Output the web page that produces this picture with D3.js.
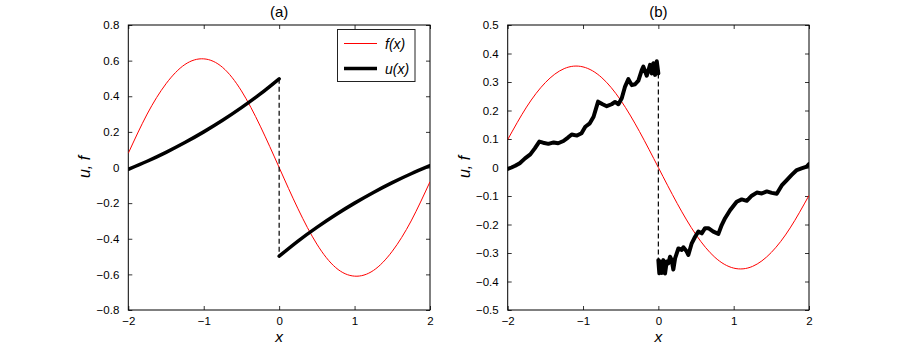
<!DOCTYPE html>
<html>
<head>
<meta charset="utf-8">
<script src="https://cdn.jsdelivr.net/npm/d3@7"></script>
<style>
  body { margin: 0; background: #fff; }
  svg text { font-family: "Liberation Sans", Arial, Helvetica, sans-serif; fill: #000; }
</style>
</head>
<body>
<script>
var width = 901,
    height = 349;

// panel (a): smooth curves, sampled every 0.25
var xsA = [-2, -1.75, -1.5, -1.25, -1, -0.75, -0.5, -0.25, 0, 0.25, 0.5, 0.75, 1, 1.25, 1.5, 1.75, 2];
var fA = [0.08, 0.3, 0.47, 0.578, 0.61, 0.562, 0.43, 0.232, 0, -0.232, -0.43, -0.562, -0.61, -0.578, -0.47, -0.3, -0.08];
var uALeft = [-0.01, 0.035, 0.085, 0.14, 0.2, 0.265, 0.336, 0.413, 0.498];
var uARight = [-0.498, -0.413, -0.336, -0.265, -0.2, -0.14, -0.085, -0.035, 0.01];

// panel (b)
var fB = [0.098, 0.212, 0.298, 0.347, 0.353, 0.315, 0.236, 0.126, 0, -0.126, -0.236, -0.315, -0.353, -0.347, -0.298, -0.212, -0.098];
var uBLeftX = [-2, -1.95, -1.9, -1.84, -1.77, -1.7, -1.64, -1.58, -1.53, -1.46, -1.39, -1.33, -1.26, -1.2, -1.15, -1.08, -1.02, -0.97, -0.91, -0.86, -0.8, -0.74, -0.685, -0.62, -0.575, -0.53, -0.486, -0.442, -0.398, -0.353, -0.309, -0.265, -0.22, -0.199, -0.154, -0.11, -0.088, -0.066, -0.044, -0.021, 0];
var uBLeftY = [-0.005, 0, 0.006, 0.015, 0.032, 0.046, 0.067, 0.091, 0.087, 0.083, 0.088, 0.085, 0.093, 0.105, 0.116, 0.112, 0.12, 0.143, 0.155, 0.178, 0.231, 0.222, 0.215, 0.222, 0.23, 0.222, 0.243, 0.284, 0.31, 0.289, 0.292, 0.305, 0.342, 0.354, 0.322, 0.36, 0.33, 0.366, 0.325, 0.373, 0.33];
var uBRightX = [0, 0.013, 0.03, 0.045, 0.066, 0.089, 0.111, 0.133, 0.155, 0.177, 0.199, 0.222, 0.266, 0.31, 0.332, 0.377, 0.398, 0.443, 0.488, 0.531, 0.576, 0.62, 0.664, 0.73, 0.797, 0.841, 0.886, 0.952, 1.04, 1.107, 1.174, 1.24, 1.307, 1.373, 1.44, 1.506, 1.572, 1.638, 1.705, 1.77, 1.838, 1.9, 1.97, 2];
var uBRightY = [-0.325, -0.371, -0.33, -0.37, -0.325, -0.372, -0.33, -0.336, -0.313, -0.325, -0.358, -0.319, -0.284, -0.289, -0.28, -0.295, -0.307, -0.266, -0.243, -0.225, -0.231, -0.213, -0.213, -0.225, -0.233, -0.202, -0.178, -0.15, -0.12, -0.112, -0.117, -0.099, -0.088, -0.091, -0.084, -0.089, -0.092, -0.063, -0.044, -0.026, -0.009, -0.003, 0.003, 0.012];

var xTicks = [-2, -1, 0, 1, 2];
var yTicksA = [-0.8, -0.6, -0.4, -0.2, 0, 0.2, 0.4, 0.6, 0.8];
var yTicksB = [-0.5, -0.4, -0.3, -0.2, -0.1, 0, 0.1, 0.2, 0.3, 0.4, 0.5];

var svg = d3.select("body").append("svg")
    .attr("width", width)
    .attr("height", height);

function zip(xs, ys) {
  return xs.map(function(x, i) { return [x, ys[i]]; });
}

function panel(o) {
  var x = d3.scaleLinear().domain([-2, 2]).range([o.left, o.right]);
  var y = d3.scaleLinear().domain(o.yDomain).range([310, 25]);
  var g = svg.append("g");

  g.append("clipPath").attr("id", o.id)
    .append("rect")
      .attr("x", o.left).attr("y", 25)
      .attr("width", o.right - o.left).attr("height", 285);

  var fmt = function(d) { return d === 0 ? "0" : d3.format(".1f")(d).replace("-", "\u2212"); };

  // axes: ticks pointing inward, box on all sides
  g.append("g").attr("transform", "translate(0,310)")
    .call(d3.axisBottom(x).tickValues(xTicks).tickSizeInner(-4).tickSizeOuter(0).tickPadding(7)
      .tickFormat(function(d) { return String(d).replace("-", "\u2212"); }));
  g.append("g").attr("transform", "translate(0,25)")
    .call(d3.axisTop(x).tickValues(xTicks).tickSizeInner(-4).tickSizeOuter(0).tickFormat(""));
  g.append("g").attr("transform", "translate(" + o.left + ",0)")
    .call(d3.axisLeft(y).tickValues(o.yTicks).tickSizeInner(-4).tickSizeOuter(0).tickPadding(9).tickFormat(fmt));
  g.append("g").attr("transform", "translate(" + o.right + ",0)")
    .call(d3.axisRight(y).tickValues(o.yTicks).tickSizeInner(-4).tickSizeOuter(0).tickFormat(""));
  g.selectAll(".domain").remove();
  g.selectAll(".tick line").attr("stroke", "#000").attr("stroke-width", 0.8);
  g.selectAll(".tick text").style("font-size", "11.5px").attr("fill", "#000");

  g.append("rect")
    .attr("x", o.left).attr("y", 25)
    .attr("width", o.right - o.left).attr("height", 285)
    .attr("fill", "none").attr("stroke", "#000").attr("stroke-width", 1);

  var plot = g.append("g").attr("clip-path", "url(#" + o.id + ")");
  var smooth = d3.line().x(function(d) { return x(d[0]); }).y(function(d) { return y(d[1]); })
    .curve(d3.curveNatural);
  var rough = d3.line().x(function(d) { return x(d[0]); }).y(function(d) { return y(d[1]); });

  plot.append("path").datum(zip(xsA, o.f))
    .attr("d", smooth).attr("fill", "none").attr("stroke", "#ff0000").attr("stroke-width", 1);

  plot.append("line")
    .attr("x1", x(0)).attr("x2", x(0))
    .attr("y1", y(o.jump[0])).attr("y2", y(o.jump[1]))
    .attr("stroke", "#000").attr("stroke-width", 1.2).attr("stroke-dasharray", "5,3");

  o.u.forEach(function(seg) {
    plot.append("path").datum(seg)
      .attr("d", o.noisy ? rough : smooth)
      .attr("fill", "none").attr("stroke", "#000")
      .attr("stroke-width", o.noisy ? 4 : 3.5)
      .attr("stroke-linejoin", "round").attr("stroke-linecap", "round");
  });

  var cx = (o.left + o.right) / 2;
  g.append("text").attr("x", cx).attr("y", 17).attr("text-anchor", "middle")
    .style("font-size", "15px").text(o.title);
  g.append("text").attr("x", cx).attr("y", 342).attr("text-anchor", "middle")
    .style("font-size", "15.5px").style("font-style", "italic").text("x");
  g.append("text")
    .attr("transform", "translate(" + (o.left - 38) + ",167) rotate(-90)")
    .attr("text-anchor", "middle")
    .style("font-size", "16px").style("font-style", "italic").text("u, f");

  return g;
}

var gA = panel({
  id: "clipA", left: 128.3, right: 430, yDomain: [-0.8, 0.8], yTicks: yTicksA,
  f: fA, title: "(a)", jump: [0.498, -0.498], noisy: false,
  u: [zip(xsA.slice(0, 9), uALeft), zip(xsA.slice(8), uARight)]
});

panel({
  id: "clipB", left: 507.7, right: 809, yDomain: [-0.5, 0.5], yTicks: yTicksB,
  f: fB, title: "(b)", jump: [0.33, -0.325], noisy: true,
  u: [zip(uBLeftX, uBLeftY), zip(uBRightX, uBRightY)]
});

// legend in panel (a)
var leg = gA.append("g");
leg.append("rect").attr("x", 337.5).attr("y", 29.5).attr("width", 77.5).attr("height", 52)
  .attr("fill", "#fff").attr("stroke", "#222").attr("stroke-width", 1);
leg.append("line").attr("x1", 344).attr("x2", 377).attr("y1", 43.5).attr("y2", 43.5)
  .attr("stroke", "#ff0000").attr("stroke-width", 1);
leg.append("line").attr("x1", 344).attr("x2", 377).attr("y1", 68.5).attr("y2", 68.5)
  .attr("stroke", "#000").attr("stroke-width", 3.5);
leg.append("text").attr("x", 385).attr("y", 48.5).style("font-size", "14px").style("font-style", "italic").text("f(x)");
leg.append("text").attr("x", 385).attr("y", 73.5).style("font-size", "14px").style("font-style", "italic").text("u(x)");
</script>
</body>
</html>
